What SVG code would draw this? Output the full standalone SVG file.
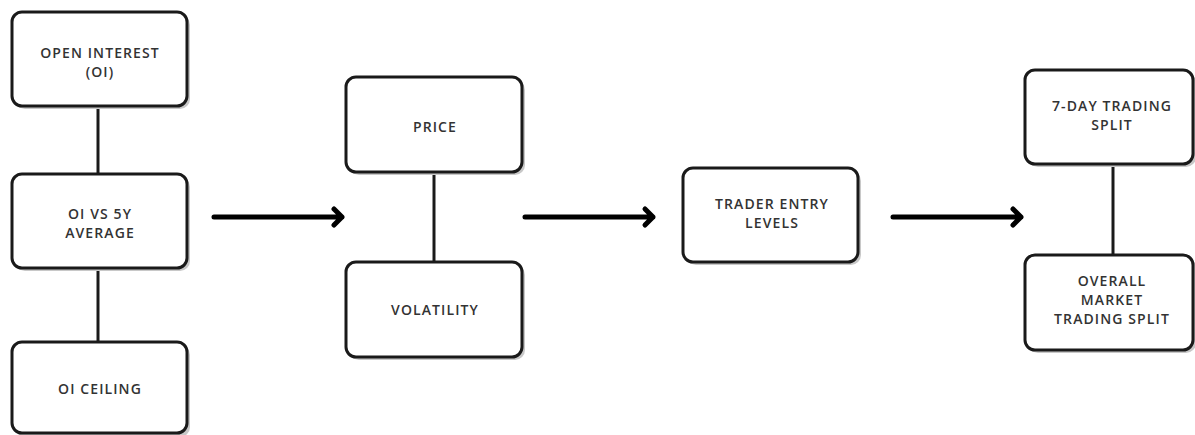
<svg xmlns="http://www.w3.org/2000/svg" width="1195" height="435" viewBox="0 0 1195 435">
<defs>
<style>
.box{fill:#fff;stroke:#1a1a1a;stroke-width:3}
.sh{fill:#c8c8c8}
.t{font-family:"Open Sans","Liberation Sans",sans-serif;font-size:14px;font-weight:600;letter-spacing:1.1px;fill:#333;text-anchor:middle}
.ln{stroke:#1a1a1a;stroke-width:3;fill:none}
.ar{stroke:#000;stroke-width:5;fill:none;stroke-linecap:round;stroke-linejoin:round}
</style>
</defs>
<rect width="1195" height="435" fill="#fff"/>
<g id="connectors">
<line class="ln" x1="98" y1="106" x2="98" y2="174"/>
<line class="ln" x1="98" y1="269" x2="98" y2="342"/>
<line class="ln" x1="434" y1="172" x2="434" y2="262"/>
<line class="ln" x1="1113" y1="164" x2="1113" y2="255"/>
<path class="ar" d="M214,217 H342 M334,209 L342,217 L334,225"/>
<path class="ar" d="M525,217 H653 M645,209 L653,217 L645,225"/>
<path class="ar" d="M893,217 H1021 M1013,209 L1021,217 L1013,225"/>
</g>
<g id="n1"><rect class="sh" x="15" y="15" width="175" height="94" rx="10"/><rect class="box" x="12" y="12" width="175" height="94" rx="10"/><text class="t" x="100" y="58">OPEN INTEREST</text><text class="t" x="100" y="77">(OI)</text></g>
<g id="n2"><rect class="sh" x="15" y="177" width="175" height="94" rx="10"/><rect class="box" x="12" y="174" width="175" height="94" rx="10"/><text class="t" x="100" y="219">OI VS 5Y</text><text class="t" x="100" y="238">AVERAGE</text></g>
<g id="n3"><rect class="sh" x="15" y="345" width="175" height="92" rx="10"/><rect class="box" x="12" y="342" width="175" height="91" rx="10"/><text class="t" x="100" y="394">OI CEILING</text></g>
<g id="n4"><rect class="sh" x="349" y="80" width="176" height="95" rx="10"/><rect class="box" x="346" y="77" width="176" height="95" rx="10"/><text class="t" x="435" y="132">PRICE</text></g>
<g id="n5"><rect class="sh" x="349" y="265" width="176" height="95" rx="10"/><rect class="box" x="346" y="262" width="176" height="95" rx="10"/><text class="t" x="435" y="315">VOLATILITY</text></g>
<g id="n6"><rect class="sh" x="686" y="171" width="175" height="94" rx="10"/><rect class="box" x="683" y="168" width="175" height="94" rx="10"/><text class="t" x="772" y="209">TRADER ENTRY</text><text class="t" x="772" y="228">LEVELS</text></g>
<g id="n7"><rect class="sh" x="1028" y="73" width="168" height="94" rx="10"/><rect class="box" x="1025" y="70" width="168" height="94" rx="10"/><text class="t" x="1112" y="111">7-DAY TRADING</text><text class="t" x="1112" y="130">SPLIT</text></g>
<g id="n8"><rect class="sh" x="1028" y="258" width="168" height="95" rx="10"/><rect class="box" x="1025" y="255" width="168" height="95" rx="10"/><text class="t" x="1112" y="286">OVERALL</text><text class="t" x="1112" y="305">MARKET</text><text class="t" x="1112" y="324">TRADING SPLIT</text></g>
</svg>
